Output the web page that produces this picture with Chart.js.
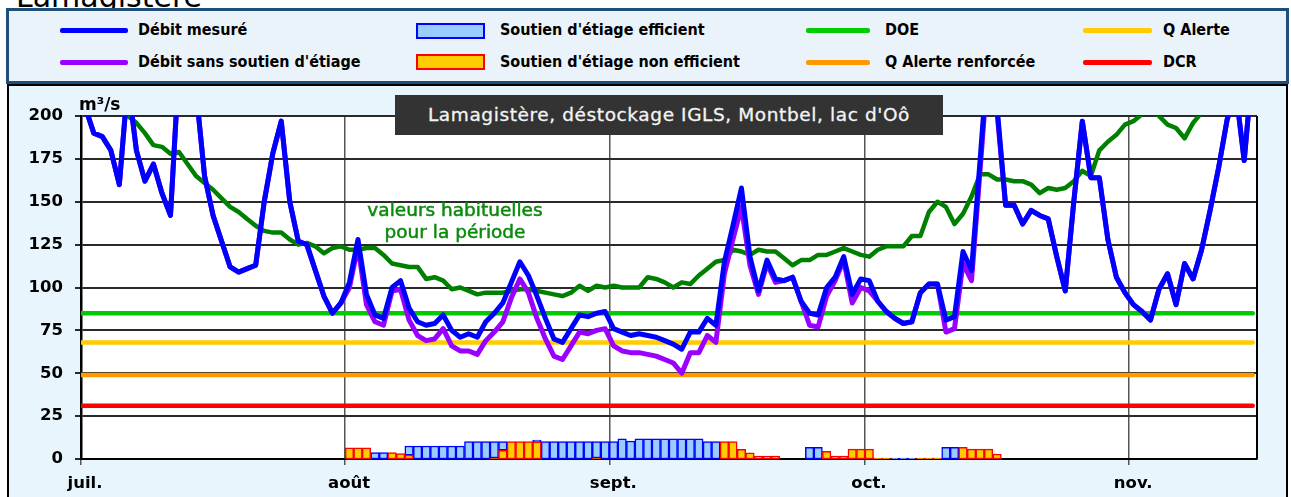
<!DOCTYPE html>
<html lang="fr">
<head>
<meta charset="utf-8">
<script src="https://cdn.jsdelivr.net/npm/chart.js@4.4.1/dist/chart.umd.min.js"></script>
<style>
  html, body { margin:0; padding:0; }
  body { width:1291px; height:497px; overflow:hidden; background:#fff; position:relative; font-family:"DejaVu Sans", sans-serif; }
  .abs { position:absolute; }
  #toptext { left:16px; top:-18px; font-size:30px; line-height:30px; color:#000; white-space:nowrap; }
  #legend { left:6px; top:8px; width:1283px; height:76px; box-sizing:border-box; border:3px solid #1F4E79; background:#EAF3FA; }
  #chartbox { left:7px; top:84px; width:1281px; height:430px; box-sizing:border-box; border:2px solid #000; background:#E9F5FD; }
  #wrap { left:9px; top:86px; width:1276px; height:411px; }
  .lg-line { position:absolute; height:5px; border-radius:2px; }
  .lg-rect { position:absolute; width:65px; height:12px; border:2px solid; }
  .lg-text { position:absolute; height:20px; line-height:20px; font-family:"DejaVu Sans Condensed","DejaVu Sans",sans-serif; font-stretch:condensed; font-weight:bold; font-size:16px; color:#000; white-space:nowrap; }
  #title { left:395px; top:95px; width:548px; height:40px; background:#333333; color:#f4f4f4; font-size:18.5px; letter-spacing:0.6px; line-height:40px; text-align:center; white-space:nowrap; -webkit-text-stroke:0.3px #f4f4f4; }
  #unit { left:79px; top:94px; font-size:17px; font-weight:bold; line-height:20px; color:#000; }
  #annot { left:355px; top:199px; width:200px; text-align:center; font-size:18.5px; line-height:22px; color:#0A8A0A; -webkit-text-stroke:0.5px #0A8A0A; white-space:nowrap; }
</style>
</head>
<body>
<div id="toptext" class="abs">Lamagistère</div>
<div id="legend" class="abs"></div>
<div class="lg-line" style="left:60px;top:28px;width:68px;background:#0000FF;"></div>
<div class="lg-text" style="left:138px;top:20px;">Débit mesuré</div>
<div class="lg-line" style="left:60px;top:60px;width:68px;background:#9900FF;"></div>
<div class="lg-text" style="left:138px;top:52px;">Débit sans soutien d'étiage</div>
<div class="lg-rect" style="left:416px;top:23px;background:#99CCFF;border-color:#0000FF;"></div>
<div class="lg-text" style="left:500px;top:20px;">Soutien d'étiage efficient</div>
<div class="lg-rect" style="left:416px;top:54px;background:#FFCC00;border-color:#FF0000;"></div>
<div class="lg-text" style="left:500px;top:52px;">Soutien d'étiage non efficient</div>
<div class="lg-line" style="left:806px;top:28px;width:64px;background:#00CC00;"></div>
<div class="lg-text" style="left:885px;top:20px;">DOE</div>
<div class="lg-line" style="left:806px;top:60px;width:64px;background:#FF9900;"></div>
<div class="lg-text" style="left:885px;top:52px;">Q Alerte renforcée</div>
<div class="lg-line" style="left:1083px;top:28px;width:69px;background:#FFCC00;"></div>
<div class="lg-text" style="left:1163px;top:20px;">Q Alerte</div>
<div class="lg-line" style="left:1083px;top:60px;width:69px;background:#FF0000;"></div>
<div class="lg-text" style="left:1163px;top:52px;">DCR</div>

<div id="chartbox" class="abs"></div>
<div id="wrap" class="abs"><canvas id="c" width="1276" height="411"></canvas></div>
<div id="title" class="abs">Lamagistère, déstockage IGLS, Montbel, lac d'Oô</div>
<div id="unit" class="abs">m³/s</div>
<div id="annot" class="abs">valeurs habituelles<br>pour la période</div>

<script>
// ---- Axis definition (days since 1 July) ----
const nbJours = 138;
const monthStarts = [0, 31, 62, 92, 123];
const monthLabels = ['juil.', 'août', 'sept.', 'oct.', 'nov.'];

// ---- Series (m³/s), one value per day from 1 July ----
const debitMesure = [
  205,190,188,180,160,220,180,162,172,155,
  142,230,240,215,165,142,127,112,109,111,
  113,150,178,197,150,127,125,110,95,85,
  91,103,128,96,84,82,100,104,88,80,
  78,79,84,75,71,73,71,80,85,91,
  103,115,107,95,82,70,68,76,84,83,
  85,86,76,74,72,73,72,71,69,67,
  64,74,74,82,78,115,136,158,118,98,
  116,105,104,106,92,85,84,100,106,118,
  96,105,104,92,86,82,79,80,97,102,
  102,81,83,121,110,174,240,205,148,148,
  137,145,142,140,118,98,150,197,164,164,
  128,106,97,90,86,81,99,108,90,114,
  105,122,145,170,198,215,174,230
];
const debitSansSoutien = [
  205,190,188,180,160,220,180,162,172,155,
  142,230,240,215,165,142,127,112,109,111,
  113,150,178,197,150,127,125,110,95,85,
  91,100,124,90,80,78,98,99,81,72,
  69,70,76,66,63,63,61,69,74,80,
  94,105,97,82,70,60,58,66,74,73,
  75,76,66,63,62,62,61,60,58,56,
  50,62,62,72,68,108,128,147,113,96,
  114,103,104,106,92,78,77,95,104,116,
  91,100,98,92,86,82,79,80,97,102,
  102,74,76,114,104,168,234,202,148,148,
  137,145,142,140,118,98,150,197,164,164,
  128,106,97,90,86,81,99,108,90,114,
  105,122,145,170,198,215,174,230
];
const valeursHabituelles = [
  225,220,215,210,205,200,196,190,183,182,
  178,179,172,165,161,157,152,147,144,140,
  136,133,132,132,128,125,126,124,120,123,
  124,122,122,123,123,119,114,113,112,112,
  105,106,104,99,100,98,96,97,97,97,
  98,99,99,98,97,96,95,97,101,98,
  101,100,101,100,100,100,106,105,103,100,
  103,102,107,111,115,116,122,121,119,122,
  121,121,117,113,116,116,119,119,121,123,
  121,119,118,122,124,124,124,130,130,144,
  150,147,137,143,153,166,166,163,163,162,
  162,160,155,158,157,158,162,168,165,180,
  185,189,195,197,201,204,200,195,193,187,
  196,202,206,208,210,212,214,216
];
// Soutien d'étiage (m³/s), null = pas de soutien
const N = null;
const soutienNonEfficient = [
  N,N,N,N,N,N,N,N,N,N, N,N,N,N,N,N,N,N,N,N, N,N,N,N,N,N,N,N,N,N,
  N,6.5,6.5,6.5,N,N,3.7,3.2,2.3,N,
  N,N,N,N,N,N,N,N,0.6,5.1,
  10.1,10.1,10.1,10,N,N,N,N,N,N,
  0.6,N,N,N,N,N,N,N,N,N,
  N,N,N,N,N,10.1,10.1,5.6,3.6,1.7,
  1.7,1.7,N,N,N,N,N,4.5,1.7,1.7,
  5.8,5.8,5.8,0.5,0.5,N,N,N,0.5,0.5,
  0.5,N,N,6.8,5.8,5.8,5.8,2.9,N,N,
  N,N,N,N,N,N,N,N,N,N, N,N,N,N,N,N,N,N,N,N, N,N,N,N,N,N,N,N
];
const soutienEfficient = [
  N,N,N,N,N,N,N,N,N,N, N,N,N,N,N,N,N,N,N,N, N,N,N,N,N,N,N,N,N,N,
  N,N,N,N,3.7,3.7,N,N,5.3,7.6,
  7.6,7.6,7.6,7.6,7.6,10.1,10.1,10.1,9.5,5,
  N,N,N,1,10.1,10.1,10.1,10.1,10.1,10.1,
  9.5,10.1,10.1,11.7,10.5,11.7,11.7,11.7,11.7,11.7,
  11.7,11.7,11.7,10.1,10.1,N,N,N,N,N,
  N,N,N,N,N,6.8,6.8,N,N,N,
  N,N,N,N,N,0.5,0.5,0.5,N,N,
  N,6.8,6.8,N,N,N,N,N,N,N,
  N,N,N,N,N,N,N,N,N,N, N,N,N,N,N,N,N,N,N,N, N,N,N,N,N,N,N,N
];
// Seuils (m³/s)
const DOE = 85;
const Q_ALERTE = 68;
const Q_ALERTE_RENF = 49;
const DCR = 31;

// ---- Build datasets ----
const toPts = arr => arr.map((v, i) => ({ x: i + 0.5, y: v }));
const seuil = v => [{ x: 0, y: v }, { x: nbJours - 0.5, y: v }];
const lineBase = { type: 'line', pointRadius: 0, borderCapStyle: 'round', borderJoinStyle: 'round', tension: 0, yAxisID: 'y', fill: false };
const barBase = { type: 'bar', yAxisID: 'yb', stack: 'soutien', barPercentage: 1, categoryPercentage: 1, borderWidth: 1.5, borderSkipped: false };

const datasets = [
  { ...lineBase, label: 'Débit mesuré', data: toPts(debitMesure), borderColor: '#0000FF', borderWidth: 5 },
  { ...lineBase, label: "Débit sans soutien d'étiage", data: toPts(debitSansSoutien), borderColor: '#9900FF', borderWidth: 5 },
  { ...lineBase, label: 'valeurs habituelles', data: toPts(valeursHabituelles), borderColor: '#008000', borderWidth: 4.5 },
  { ...lineBase, label: 'DOE', data: seuil(DOE), borderColor: '#00CC00', borderWidth: 4.5 },
  { ...lineBase, label: 'Q Alerte', data: seuil(Q_ALERTE), borderColor: '#FFCC00', borderWidth: 4.5 },
  { ...lineBase, label: 'Q Alerte renforcée', data: seuil(Q_ALERTE_RENF), borderColor: '#FF9900', borderWidth: 4.5 },
  { ...lineBase, label: 'DCR', data: seuil(DCR), borderColor: '#FF0000', borderWidth: 4.5 },
  { ...barBase, label: "Soutien d'étiage non efficient", data: toPts(soutienNonEfficient), backgroundColor: '#FFCC00', borderColor: '#FF0000' },
  { ...barBase, label: "Soutien d'étiage efficient", data: toPts(soutienEfficient), backgroundColor: '#99CCFF', borderColor: '#0000FF' }
];

const tickFont = { family: 'DejaVu Sans', weight: 'bold', size: 16.5 };

const plotFrame = {
  id: 'plotFrame',
  beforeDraw(chart) {
    const { ctx, chartArea: a } = chart;
    ctx.save();
    ctx.fillStyle = '#ffffff';
    ctx.fillRect(a.left, a.top, a.right - a.left, a.bottom - a.top);
    ctx.restore();
  },
  afterDatasetsDraw(chart) {
    const { ctx, chartArea: a } = chart;
    ctx.save();
    ctx.strokeStyle = '#000';
    ctx.lineWidth = 2;
    ctx.beginPath();
    ctx.moveTo(a.right, a.top);
    ctx.lineTo(a.right, a.bottom);
    ctx.stroke();
    ctx.restore();
  }
};

new Chart(document.getElementById('c'), {
  type: 'bar',
  data: { datasets },
  plugins: [plotFrame],
  options: {
    responsive: false,
    animation: false,
    layout: { padding: { top: 30, right: 28, left: 0, bottom: 0 } },
    plugins: { legend: { display: false }, tooltip: { enabled: false } },
    scales: {
      x: {
        type: 'linear', min: 0, max: nbJours, offset: false,
        afterBuildTicks: s => { s.ticks = monthStarts.map(v => ({ value: v })); },
        afterFit: s => { s.height = 38; },
        grid: { color: '#555', lineWidth: 1.5, tickLength: 6, offset: false },
        border: { color: '#000', width: 2 },
        ticks: {
          autoSkip: false, maxRotation: 0, padding: 9, labelOffset: 4, color: '#000', font: tickFont,
          callback: v => { const k = monthStarts.indexOf(v); return k >= 0 ? monthLabels[k] : ''; }
        }
      },
      y: {
        min: 0, max: 200,
        afterFit: s => { s.width = 72; },
        grid: { color: '#2a2a2a', lineWidth: 2, tickLength: 6 },
        border: { color: '#000', width: 2.5 },
        ticks: { stepSize: 25, padding: 12, color: '#000', font: tickFont }
      },
      yb: { type: 'linear', display: false, stacked: true, min: 0, max: 200 }
    }
  }
});
</script>
</body>
</html>
